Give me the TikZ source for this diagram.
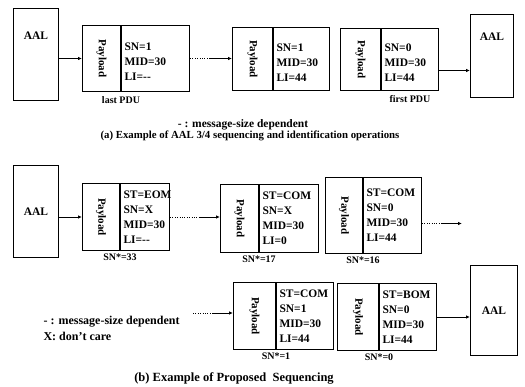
\documentclass[tikz,border=0pt]{standalone}
\usepackage{fontspec}
\setmainfont{Liberation Serif}
\usetikzlibrary{positioning,arrows.meta}

\begin{document}
\begin{tikzpicture}[x=1pt,y=-1pt,
		every node/.style={font=\bfseries\fontsize{11.5}{15}\selectfont},
		aal/.style={draw, line width=1pt, anchor=north west, inner sep=0pt},
		pay/.style={draw, line width=1pt, anchor=north west, inner sep=0pt, font=\bfseries\fontsize{11}{13}\selectfont},
		fld/.style={draw, line width=1pt, align=left, inner xsep=3pt, inner ysep=0pt},
		sntag/.style={inner sep=1pt, font=\bfseries\fontsize{10}{12}\selectfont},
		link/.style={line width=0.8pt, -{Latex[length=4pt,width=3.5pt]}},
		dots/.style={line width=0.8pt, dash pattern=on 0.8pt off 1.6pt}]
	\useasboundingbox (0,0) rectangle (525,387);

	% (a) AAL 3/4
	\node[aal, minimum width=45pt, minimum height=92pt, text depth=38pt] (aal1) at (13,8) {AAL};
	\node[aal, minimum width=43pt, minimum height=83pt, text depth=38pt] (aal2) at (470,14) {AAL};

	\node[pay, minimum width=38pt, minimum height=66pt] (p1) at (82,25) {\rotatebox{-90}{Payload}};
	\node[fld, right=0pt of p1, text width=62pt, minimum height=66pt] (f1) {\mbox{}\\SN=1\\MID=30\\LI={-}{-}};
	\node[pay, minimum width=40pt, minimum height=63pt] (p2) at (232,27) {\rotatebox{-90}{Payload}};
	\node[fld, right=0pt of p2, text width=50pt, minimum height=63pt] (f2) {\mbox{}\\SN=1\\MID=30\\LI=44};
	\node[pay, minimum width=40pt, minimum height=62pt] (p3) at (340,28) {\rotatebox{-90}{Payload}};
	\node[fld, right=0pt of p3, text width=51pt, minimum height=62pt] (f3) {\mbox{}\\SN=0\\MID=30\\LI=44};

	\node[sntag, below=3pt of p1.south east] (last) {last PDU};
	\node[sntag, below=3pt of f3.south] (first) {first PDU};

	\coordinate[right=19pt of f1] (d1);
	\coordinate (e3) at ([yshift=-11pt]f3.east);

	\draw[link] (aal1.east |- p1.west) -- (p1.west);
	\draw[dots] (f1.east) -- (d1);
	\draw[link] (d1) -- (d1 -| p2.west);
	\draw[link] (e3) -- (e3 -| aal2.west);

	\node (leg1) at (243,125) {{-} : message-size dependent};
	\node[font=\bfseries\fontsize{10.8}{13}\selectfont] (capa) at (250,136) {(a) Example of AAL 3/4 sequencing and identification operations};

	% (b) proposed
	\node[aal, minimum width=45pt, minimum height=92pt] (aal3) at (13,165) {AAL};
	\node[aal, minimum width=47pt, minimum height=90pt] (aal4) at (470,265) {AAL};

	\node[pay, minimum width=37pt, minimum height=67pt] (p4) at (82,183) {\rotatebox{-90}{Payload}};
	\node[fld, right=0pt of p4, text width=43pt, minimum height=67pt] (f4) {ST=EOM\\SN=X\\MID=30\\LI={-}{-}};
	\node[pay, minimum width=38pt, minimum height=68pt] (p5) at (220,184) {\rotatebox{-90}{Payload}};
	\node[fld, right=0pt of p5, text width=53pt, minimum height=68pt] (f5) {ST=COM\\SN=X\\MID=30\\LI=0};
	\node[pay, minimum width=37pt, minimum height=76pt] (p6) at (325,177) {\rotatebox{-90}{Payload}};
	\node[fld, right=0pt of p6, text width=52pt, minimum height=76pt] (f6) {ST=COM\\SN=0\\MID=30\\LI=44};
	\node[pay, minimum width=42pt, minimum height=67pt] (p7) at (233,282) {\rotatebox{-90}{Payload}};
	\node[fld, right=0pt of p7, text width=51pt, minimum height=67pt] (f7) {ST=COM\\SN=1\\MID=30\\LI=44};
	\node[pay, minimum width=41pt, minimum height=67pt] (p8) at (337,283) {\rotatebox{-90}{Payload}};
	\node[fld, right=0pt of p8, text width=51pt, minimum height=67pt] (f8) {ST=BOM\\SN=0\\MID=30\\LI=44};

	\node[sntag, below=2pt of p4.south east] (s33) {SN*=33};
	\node[sntag, below=2pt of p5.south east] (s17) {SN*=17};
	\node[sntag, below=2pt of p6.south east] (s16) {SN*=16};
	\node[sntag, below=2pt of p7.south east] (s1) {SN*=1};
	\node[sntag, below=2pt of p8.south east] (s0) {SN*=0};

	\coordinate[right=30pt of f4] (d4);
	\coordinate (e6) at ([yshift=-8pt]f6.east);
	\coordinate[right=20pt of e6] (d6);
	\coordinate[right=40pt of e6] (x6);
	\coordinate (x7) at (193,313);
	\coordinate (d7) at (212,313);

	\draw[link] (aal3.east |- p4.west) -- (p4.west);
	\draw[dots] (f4.east) -- (d4);
	\draw[link] (d4) -- (d4 -| p5.west);
	\draw[dots] (e6) -- (d6);
	\draw[link] (d6) -- (x6);
	\draw[dots] (x7) -- (d7);
	\draw[link] (d7) -- (d7 -| p7.west);
	\draw[link] (f8.east) -- (f8.east -| aal4.west);

	\node[anchor=west, align=left, font=\bfseries\fontsize{12}{16}\selectfont] (leg2) at (40,328) {{-} : message-size dependent\\X: don't care};
	\node[font=\bfseries\fontsize{12.5}{15}\selectfont] (capb) at (234,378) {(b) Example of Proposed\ \ Sequencing};

\end{tikzpicture}
\end{document}
